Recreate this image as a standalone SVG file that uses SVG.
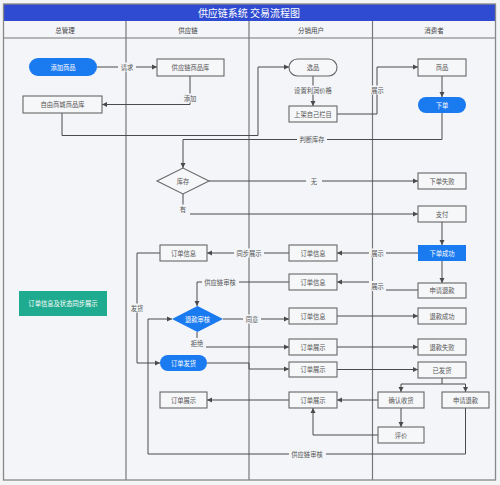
<svg xmlns="http://www.w3.org/2000/svg" width="500" height="485" viewBox="0 0 500 485">
<defs>
<marker id="arr" markerUnits="userSpaceOnUse" markerWidth="6" markerHeight="6" refX="5" refY="3" orient="auto">
<path d="M0,0.5 L5,3 L0,5.5 Z" fill="#4a4a4a"/>
</marker>
<style>
text{font-family:"Noto Sans CJK SC","Liberation Sans",sans-serif;text-anchor:middle;dominant-baseline:central}
.lane{fill:#f3f5f9}
.div{stroke:#777;stroke-width:1.2;fill:none}
.hd{font-size:6.5px;fill:#444}
.box{fill:#f6f7f9;stroke:#666;stroke-width:1.1}
.blue{fill:#1a7af0;stroke:none}
.teal{fill:#1fab8f}
.t{font-size:6.3px;fill:#555}
.tw{font-size:6.3px;fill:#fff}
.c{fill:none;stroke:#4a4a4a;stroke-width:1}
.ca{fill:none;stroke:#4a4a4a;stroke-width:1;marker-end:url(#arr)}
.lb{fill:#f3f5f9}
.lt{font-size:6.3px;fill:#555}
</style>
</defs>
<rect x="0" y="0" width="500" height="485" fill="#f3f4f6"/>
<g id="frame">
<rect class="lane" x="3.5" y="21" width="492" height="459"/>
<rect x="3.5" y="4" width="492" height="17" fill="#2f4bd2"/>
<text x="249" y="12.8" font-size="10" fill="#fff">供应链系统 交易流程图</text>
<line class="div" x1="3.5" y1="38" x2="495.5" y2="38"/>
<line class="div" x1="126" y1="21" x2="126" y2="480"/>
<line class="div" x1="249" y1="21" x2="249" y2="480"/>
<line class="div" x1="372.5" y1="21" x2="372.5" y2="480"/>
<rect x="3.5" y="4" width="492" height="476" fill="none" stroke="#888" stroke-width="1.3"/>
<text class="hd" x="65" y="29.5">总管理</text>
<text class="hd" x="188" y="29.5">供应链</text>
<text class="hd" x="311" y="29.5">分销用户</text>
<text class="hd" x="434" y="29.5">消费者</text>
</g>
<g id="connectors">
<path class="ca" d="M97,67 H157"/>
<path class="ca" d="M190,76 V104.5 H102"/>
<path class="ca" d="M62,113 V135.5 H258 V67 H289"/>
<path class="ca" d="M313,76 V106"/>
<path class="ca" d="M337,114 H377 V67 H418"/>
<path class="ca" d="M442,76 V97"/>
<path class="ca" d="M442,113 V139.5 H183 V168"/>
<path class="ca" d="M209,181 H418"/>
<path class="ca" d="M183,194 V214 H418"/>
<path class="ca" d="M442,222 V245"/>
<path class="ca" d="M418,253 H337"/>
<path class="ca" d="M289,253 H207"/>
<path class="ca" d="M442,261 V283"/>
<path class="ca" d="M418,290 H377 V282 H337"/>
<path class="ca" d="M289,282 H197 V306"/>
<path class="ca" d="M160,253 H137 V363 H160"/>
<path class="ca" d="M223,319 H289"/>
<path class="ca" d="M337,316 H418"/>
<path class="ca" d="M197,332 V347 H289"/>
<path class="ca" d="M337,347 H418"/>
<path class="ca" d="M207,363 H249 V369 H289"/>
<path class="ca" d="M337,369.5 H418"/>
<path class="c" d="M442,378 V384"/>
<path class="ca" d="M442,384 H401 V392"/>
<path class="ca" d="M442,384 H465.5 V392"/>
<path class="ca" d="M378,400 H337"/>
<path class="ca" d="M289,400 H207"/>
<path class="ca" d="M401,408 V427"/>
<path class="ca" d="M378,435 H313 V408"/>
<path class="ca" d="M465.5,408 V454 H148 V319 H172"/>
<g id="labels">
<rect class="lb" x="118" y="62.5" width="18" height="9"/><text class="lt" x="127" y="67">请求</text>
<rect class="lb" x="181" y="93.5" width="18" height="9"/><text class="lt" x="190" y="98">添加</text>
<rect class="lb" x="292" y="85.5" width="42" height="9"/><text class="lt" x="313" y="90">设置利润价格</text>
<rect class="lb" x="369" y="85.5" width="17" height="9"/><text class="lt" x="377.5" y="90">展示</text>
<rect class="lb" x="297" y="135" width="30" height="9"/><text class="lt" x="312" y="139.5">判断库存</text>
<rect class="lb" x="306" y="176.5" width="16" height="9"/><text class="lt" x="314" y="181">无</text>
<rect class="lb" x="176" y="204.5" width="14" height="11"/><text class="lt" x="183" y="209.5">有</text>
<rect class="lb" x="369" y="248.5" width="17" height="9"/><text class="lt" x="377.5" y="253">展示</text>
<rect class="lb" x="234" y="248.5" width="30" height="9"/><text class="lt" x="249" y="253">同步展示</text>
<rect class="lb" x="369" y="281" width="17" height="10"/><text class="lt" x="377.5" y="286">展示</text>
<rect class="lb" x="202" y="277.5" width="37" height="9"/><text class="lt" x="220" y="282">供应链审核</text>
<rect class="lb" x="129" y="303.5" width="16" height="9"/><text class="lt" x="137" y="308">发货</text>
<rect class="lb" x="243" y="314.5" width="18" height="9"/><text class="lt" x="252" y="319">同意</text>
<rect class="lb" x="188" y="338" width="18" height="11"/><text class="lt" x="197" y="343">拒绝</text>
<rect class="lb" x="289" y="449.5" width="37" height="9"/><text class="lt" x="307" y="454">供应链审核</text>
</g>
</g>
<g id="n-add"><rect class="blue" x="29" y="58" width="68" height="18" rx="9"/><text class="tw" x="63" y="67">添加商品</text></g>
<g id="n-supplylib"><rect class="box" x="157" y="59" width="67" height="17"/><text class="t" x="190.5" y="67.5">供应链商品库</text></g>
<g id="n-mall"><rect class="box" x="23" y="96" width="79" height="17"/><text class="t" x="62.5" y="104.5">自由商城商品库</text></g>
<g id="n-pick"><rect class="box" x="289" y="59" width="48" height="17" rx="8.5"/><text class="t" x="313" y="67.5">选品</text></g>
<g id="n-shelf"><rect class="box" x="289" y="106" width="48" height="16"/><text class="t" x="313" y="114">上架自己栏目</text></g>
<g id="n-goods"><rect class="box" x="418" y="59" width="48" height="17"/><text class="t" x="442" y="67.5">商品</text></g>
<g id="n-order"><rect class="blue" x="418" y="97" width="48" height="16" rx="8"/><text class="tw" x="442" y="105">下单</text></g>
<g id="n-stock"><path class="box" d="M157,181 L183,168 L209,181 L183,194 Z"/><text class="t" x="183" y="181">库存</text></g>
<g id="n-fail"><rect class="box" x="418" y="173" width="48" height="16"/><text class="t" x="442" y="181">下单失败</text></g>
<g id="n-pay"><rect class="box" x="418" y="206" width="48" height="16"/><text class="t" x="442" y="214">支付</text></g>
<g id="n-success"><rect class="blue" x="418" y="245" width="48" height="16"/><text class="tw" x="442" y="253">下单成功</text></g>
<g id="n-info-d1"><rect class="box" x="289" y="245" width="48" height="16"/><text class="t" x="313" y="253">订单信息</text></g>
<g id="n-info-s1"><rect class="box" x="160" y="245" width="47" height="16"/><text class="t" x="183.5" y="253">订单信息</text></g>
<g id="n-refund1"><rect class="box" x="418" y="283" width="48" height="15"/><text class="t" x="442" y="290.5">申请退款</text></g>
<g id="n-info-d2"><rect class="box" x="289" y="274" width="48" height="16"/><text class="t" x="313" y="282">订单信息</text></g>
<g id="n-audit"><path class="blue" d="M172,319 L197.5,306 L223,319 L197.5,332 Z"/><text class="tw" x="197.5" y="319">退款审核</text></g>
<g id="n-info-d3"><rect class="box" x="289" y="308" width="48" height="16"/><text class="t" x="313" y="316">订单信息</text></g>
<g id="n-refundok"><rect class="box" x="418" y="308" width="48" height="16"/><text class="t" x="442" y="316">退款成功</text></g>
<g id="n-show-d1"><rect class="box" x="289" y="339" width="48" height="16"/><text class="t" x="313" y="347">订单展示</text></g>
<g id="n-refundfail"><rect class="box" x="418" y="339" width="48" height="16"/><text class="t" x="442" y="347">退款失败</text></g>
<g id="n-ship"><rect class="blue" x="160" y="355" width="47" height="16" rx="8"/><text class="tw" x="183.5" y="363">订单发货</text></g>
<g id="n-show-d2"><rect class="box" x="289" y="362" width="48" height="15"/><text class="t" x="313" y="369.5">订单展示</text></g>
<g id="n-shipped"><rect class="box" x="418" y="362" width="48" height="16"/><text class="t" x="442" y="370">已发货</text></g>
<g id="n-confirm"><rect class="box" x="378" y="392" width="46" height="16"/><text class="t" x="401" y="400">确认收货</text></g>
<g id="n-refund2"><rect class="box" x="442" y="392" width="47" height="16"/><text class="t" x="465.5" y="400">申请退款</text></g>
<g id="n-show-d3"><rect class="box" x="289" y="392" width="48" height="16"/><text class="t" x="313" y="400">订单展示</text></g>
<g id="n-show-s"><rect class="box" x="160" y="392" width="47" height="16"/><text class="t" x="183.5" y="400">订单展示</text></g>
<g id="n-review"><rect class="box" x="378" y="427" width="46" height="16"/><text class="t" x="401" y="435">评价</text></g>
<g id="n-sync"><rect class="teal" x="19" y="291" width="88" height="25"/><text class="tw" x="63" y="303.5">订单信息及状态同步展示</text></g>
</svg>
